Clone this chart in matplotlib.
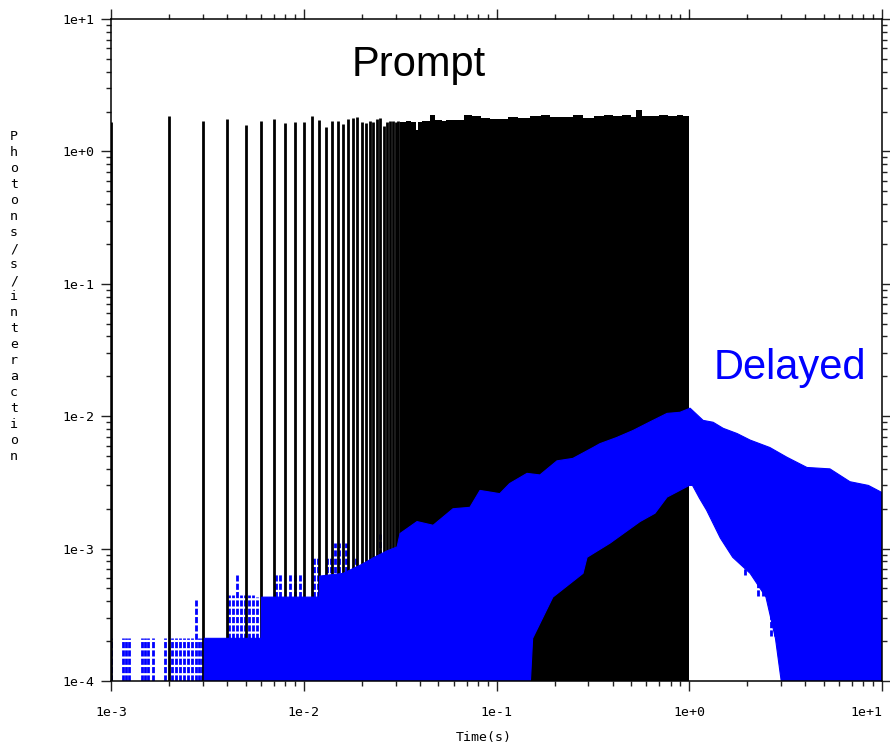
import numpy as np
import matplotlib
matplotlib.use('Agg')
from matplotlib import pyplot as plt
from matplotlib.ticker import LogLocator, NullFormatter

# prompt pulses resolved one by one: time (ms) and peak height
spike_ms = [1, 2, 3, 4, 5, 6, 7, 8, 9, 10, 11, 12, 13, 14, 15, 16,
            17, 18, 19, 20, 21, 22, 23, 24, 25, 26, 27, 28, 29, 30, 31]
spike_h = [1.66, 1.84, 1.69, 1.75, 1.59, 1.71, 1.75, 1.63, 1.66, 1.66,
           1.85, 1.72, 1.53, 1.69, 1.71, 1.61, 1.76, 1.80, 1.82, 1.67,
           1.64, 1.71, 1.68, 1.76, 1.80, 1.55, 1.67, 1.69, 1.69, 1.66, 1.71]

# prompt pulses merged into a block: top edge
dense_t = [0.0315, 0.034, 0.036, 0.038, 0.039, 0.041, 0.045, 0.048, 0.052,
           0.055, 0.061, 0.068, 0.075, 0.083, 0.092, 0.10, 0.115, 0.13,
           0.15, 0.17, 0.19, 0.22, 0.25, 0.28, 0.32, 0.36, 0.40, 0.45,
           0.50, 0.53, 0.57, 0.63, 0.70, 0.78, 0.86, 0.93, 1.0]
dense_h = [1.66, 1.69, 1.66, 1.44, 1.66, 1.70, 1.87, 1.73, 1.70, 1.74,
           1.73, 1.87, 1.84, 1.78, 1.76, 1.77, 1.82, 1.79, 1.84, 1.87,
           1.83, 1.82, 1.87, 1.80, 1.84, 1.87, 1.85, 1.87, 1.82, 2.04,
           1.86, 1.85, 1.89, 1.84, 1.88, 1.85, 1.85]

# delayed, solid band: upper edge
top_t = [3.05e-3, 6.0e-3, 6.05e-3, 1.2e-2, 1.21e-2, 1.6e-2, 2.0e-2, 2.29e-2,
         2.7e-2, 3.05e-2, 3.16e-2, 3.87e-2, 4.69e-2, 5.95e-2, 7.28e-2,
         8.21e-2, 0.104, 0.117, 0.144, 0.168, 0.206, 0.249, 0.317, 0.344,
         0.42, 0.511, 0.62, 0.767, 0.895, 1.01, 1.18, 1.33, 1.50, 1.77, 2.07,
         2.62, 3.21, 4.08, 5.37, 6.82, 8.5, 10.0]
top_v = [2.1e-4, 2.1e-4, 4.3e-4, 4.3e-4, 6.2e-4, 6.5e-4, 7.6e-4, 8.5e-4,
         9.6e-4, 1.03e-3, 1.3e-3, 1.6e-3, 1.5e-3, 2.0e-3, 2.05e-3, 2.75e-3,
         2.6e-3, 3.1e-3, 3.7e-3, 3.6e-3, 4.6e-3, 4.8e-3, 5.8e-3, 6.2e-3,
         6.9e-3, 7.8e-3, 9.0e-3, 1.05e-2, 1.07e-2, 1.15e-2, 9.3e-3, 9.0e-3,
         8.1e-3, 7.4e-3, 6.6e-3, 5.8e-3, 4.9e-3, 4.1e-3, 4.0e-3, 3.2e-3,
         3.0e-3, 2.65e-3]

# delayed, solid band: lower edge (over the prompt block and after it)
low_t = [3.05e-3, 0.15, 0.154, 0.196, 0.281, 0.295, 0.388, 0.555, 0.664,
         0.767, 1.0, 1.04, 1.13, 1.23, 1.45, 1.68, 2.07, 2.5, 2.8, 3.0, 10.0]
low_v = [1e-4, 1e-4, 2.1e-4, 4.3e-4, 6.5e-4, 8.6e-4, 1.1e-3, 1.6e-3,
         1.85e-3, 2.45e-3, 3.0e-3, 3.0e-3, 2.4e-3, 1.95e-3, 1.2e-3, 8.6e-4,
         6.5e-4, 4.3e-4, 2.1e-4, 1e-4, 1e-4]

# delayed, sparse dashed columns at early times
early_t = [1.0e-3, 1.15e-3, 1.2e-3, 1.24e-3, 1.45e-3, 1.5e-3, 1.56e-3,
           1.65e-3, 1.91e-3, 2.07e-3, 2.17e-3, 2.28e-3, 2.39e-3, 2.51e-3,
           2.63e-3, 2.76e-3, 2.86e-3, 2.95e-3]
early_v = [2.1e-4, 2.1e-4, 2.1e-4, 2.1e-4, 2.1e-4, 2.1e-4, 2.1e-4, 2.1e-4,
           2.1e-4, 2.1e-4, 2.1e-4, 2.1e-4, 2.1e-4, 2.1e-4, 2.1e-4, 4.1e-4,
           2.1e-4, 2.1e-4]

# delayed, dashed columns sticking out above the band
sparse_t = [4.09e-3, 4.29e-3, 4.5e-3, 4.73e-3, 4.96e-3, 5.2e-3, 5.45e-3,
            5.72e-3, 6.07e-3, 6.37e-3, 6.68e-3, 7.18e-3, 7.53e-3, 8.49e-3,
            9.01e-3, 9.56e-3, 1.13e-2, 1.19e-2, 1.32e-2, 1.39e-2, 1.45e-2,
            1.52e-2, 1.66e-2, 1.87e-2, 2.49e-2, 3.05e-2]
sparse_v = [4.5e-4, 4.5e-4, 6.3e-4, 4.5e-4, 4.5e-4, 4.5e-4, 4.5e-4, 4.3e-4,
            4.3e-4, 4.3e-4, 4.3e-4, 6.5e-4, 6.5e-4, 6.5e-4, 6.5e-4, 6.5e-4,
            8.5e-4, 8.5e-4, 8.5e-4, 8.5e-4, 1.1e-3, 1.1e-3, 1.1e-3, 8.5e-4,
            1.3e-3, 1.55e-3]

# delayed, dashed pieces below the lower edge after 1 s
tail_t = [1.95, 2.26, 2.42, 2.66, 2.79, 3.30, 3.40]
tail_lo = [6.3e-4, 4.4e-4, 4.4e-4, 2.2e-4, 2.2e-4, 1e-4, 1e-4]
tail_hi = [8.5e-4, 6.5e-4, 6.5e-4, 4.3e-4, 4.3e-4, 2.1e-4, 2.1e-4]

xticks = [1e-3, 1e-2, 1e-1, 1e0, 1e1]
xlabels = ['1e-3', '1e-2', '1e-1', '1e+0', '1e+1']
yticks = [1e-4, 1e-3, 1e-2, 1e-1, 1e0, 1e1]
ylabels = ['1e-4', '1e-3', '1e-2', '1e-1', '1e+0', '1e+1']
ytitle = 'Photons/s/interaction'

YMIN = 1e-4
MONO = 'DejaVu Sans Mono'
DASH = (0, (2.2, 0.8))


def stairs(t, v):
    xs = np.repeat(t, 2)[1:]  # staircase x
    ys = np.repeat(v, 2)[:-1]  # staircase y
    return xs, ys


fig = plt.figure(figsize=(8.9, 7.46), dpi=100)
ax = fig.add_axes([111 / 890, 65 / 746, 771 / 890, 662 / 746])
ax.set_xscale('log')
ax.set_yscale('log')
ax.set_xlim(1e-3, 1e1)
ax.set_ylim(YMIN, 1e1)

# prompt block
bx, by = stairs(dense_t, dense_h)
ax.fill_between(bx, YMIN, by, color='black', lw=0, zorder=1)

# sparse delayed columns (under the pulses)
ax.vlines(early_t, YMIN, early_v, colors='blue', lw=2.0,
          linestyles=DASH, zorder=2)
ax.vlines(sparse_t, YMIN, sparse_v, colors='blue', lw=2.0,
          linestyles=DASH, zorder=2)

# prompt pulses
ax.vlines(np.array(spike_ms) * 1e-3, YMIN, spike_h, colors='black',
          lw=2.0, zorder=3)

# delayed band
band_t = np.concatenate([top_t, low_t[::-1]])
band_v = np.concatenate([top_v, low_v[::-1]])
ax.fill(band_t, band_v, color='blue', lw=0.8, ec='blue', zorder=4)
ax.vlines(tail_t, tail_lo, tail_hi, colors='blue', lw=2.0,
          linestyles=DASH, zorder=4)

# annotations
ax.text(0.3995, 0.914, 'Prompt', transform=ax.transAxes, ha='center',
        va='baseline', fontsize=30, family='Liberation Sans', color='black')
ax.text(0.8807, 0.456, 'Delayed', transform=ax.transAxes, ha='center',
        va='baseline', fontsize=30, family='Liberation Sans', color='blue',
        zorder=6)

# axes and ticks
ax.set_xticks(xticks, labels=xlabels)
ax.set_yticks(yticks, labels=ylabels)
ax.xaxis.set_minor_locator(LogLocator(base=10, subs=np.arange(2, 10), numticks=20))
ax.yaxis.set_minor_locator(LogLocator(base=10, subs=np.arange(2, 10), numticks=20))
ax.xaxis.set_minor_formatter(NullFormatter())
ax.yaxis.set_minor_formatter(NullFormatter())
ax.tick_params(which='both', direction='out', top=True, right=True,
               labeltop=False, labelright=False, width=1.0, color='#222222')
ax.tick_params(which='major', length=7)
ax.tick_params(which='minor', length=3.5)
ax.tick_params(axis='x', which='major', pad=11)
ax.tick_params(axis='y', which='major', pad=5)
for lab in ax.get_xticklabels() + ax.get_yticklabels():
    lab.set_family(MONO)
    lab.set_fontsize(9.5)
ax.get_xticklabels()[-1].set_horizontalalignment('right')  # keep inside
for sp in ax.spines.values():
    sp.set_linewidth(1.1)
    sp.set_zorder(7)

ax.set_xlabel('Time(s)', family=MONO, fontsize=9.5)
ax.xaxis.set_label_coords(0.484, -0.0755)
fig.text(14 / 890, 1 - 297 / 746, '\n'.join(ytitle), ha='center',
         va='center', family=MONO, fontsize=9.5, linespacing=1.3)

fig.savefig('out.png', dpi=100)
